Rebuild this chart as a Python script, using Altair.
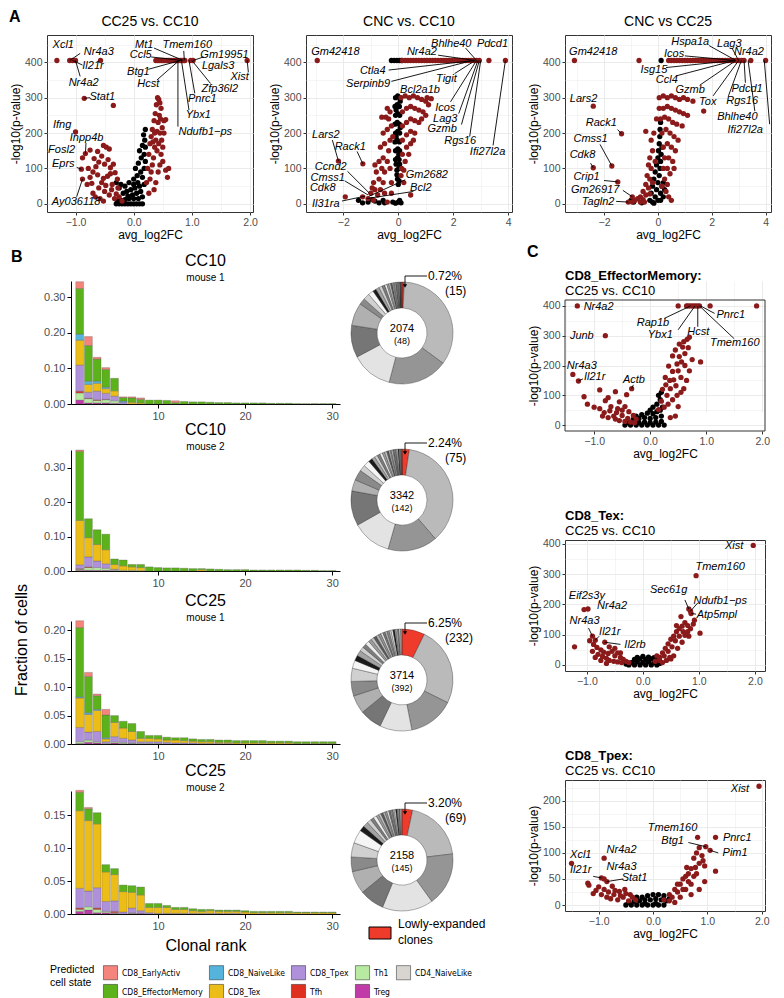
import altair as alt
import pandas as pd

FONT = "Liberation Sans"
NARROW = "Liberation Sans Narrow, DejaVu Sans Condensed, Liberation Sans"
DARKRED = "#8b1a1a"

# ---------------- Panel A1: CC25 vs. CC10 ----------------
a1_red = [(-1.32,405),(-1.1,405),(-1.05,405),(-1.0,405),(-0.57,405),
          (0.38,405),(0.41,405),(0.44,405),(0.47,405),(0.5,405),(0.53,405),(0.56,405),(0.59,405),(0.62,405),
          (0.65,405),(0.68,405),(0.71,405),(0.74,405),(0.77,405),(0.8,405),(0.83,405),(0.86,405),(0.88,405),
          (0.98,405),(1.02,405),(1.95,405),
          (-0.85,298),(-0.35,278),(-1.0,203),(-0.83,142),(-0.88,130),(-0.9,98),(-0.88,70),
          (-0.75,152),(-0.62,148),(-0.52,165),(-0.47,160),(-0.42,155),(-0.55,135),(-0.68,128),(-0.6,118),
          (-0.5,112),(-0.4,102),(-0.35,112),(-0.78,100),(-0.7,90),(-0.62,82),(-0.52,72),(-0.45,78),(-0.32,88),
          (-0.72,58),(-0.6,45),(-0.5,35),(-0.42,25),(-0.33,15),(-0.27,45),(-0.37,55),(-0.8,55),(-0.48,52),
          (-0.3,28),(-0.58,15),(-0.7,30),(-0.55,60),(-0.65,105),(-0.44,125),(-0.4,85),(-0.28,70),(-0.25,20),
          (-0.2,8),(-0.38,40),(-0.75,75),(-0.66,20),(-0.52,8),
          (0.22,60),(0.24,100),(0.26,140),(0.28,170),(0.3,190),(0.32,210),(0.35,235),(0.37,255),(0.39,280),
          (0.41,300),(0.43,295),(0.45,285),(0.47,270),(0.44,250),(0.42,230),(0.4,205),(0.38,180),(0.36,160),
          (0.34,130),(0.32,110),(0.3,90),(0.28,70),(0.45,200),(0.48,180),(0.5,160),(0.47,140),(0.52,235),
          (0.55,238),(0.5,120),(0.45,110),(0.42,90),(0.55,95),(0.6,100),(0.58,75),(0.38,60),(0.35,40),
          (0.26,30),(0.4,150),(0.43,170),(0.36,200),(0.33,175),(0.52,200),(0.49,215),(0.46,240)]
a1_blk = [(-0.3,0),(-0.25,0),(-0.2,0),(-0.15,0),(-0.1,0),(-0.05,0),(0,0),(0.05,0),(0.1,0),(0.15,0),
          (-0.28,8),(-0.22,10),(-0.15,12),(-0.08,15),(0,15),(0.08,15),(0.15,20),(-0.25,45),(-0.3,60),
          (-0.22,55),(-0.18,30),(-0.12,35),(-0.05,40),(0.02,45),(0.1,50),(0.18,55),(-0.08,60),(0,70),
          (0.06,80),(0.12,90),(0.18,100),(0.03,100),(0.08,115),(0.13,130),(0.18,140),(0.1,150),(0.15,165),
          (0.19,180),(0.17,195),(0.2,210),(-0.02,25),(0.05,30),(0.12,35),(-0.15,50),(0.15,75),(0.0,55),
          (0.2,160),(0.2,120),(0.07,60),(-0.1,22)]
a1_lab = [("Xcl1",-1.32,405,-1.21,449,None,None),("Nr4a3",-1.1,405,-0.6,429,-0.92,425),
          ("Il21r",-1.05,405,-0.7,390,-0.88,392),("Nr4a2",-1.0,405,-0.86,342,-0.92,360),
          ("Stat1",-0.85,298,-0.54,302,-0.75,300),("Mt1",0.85,405,0.18,449,0.35,440),
          ("Ccl5",0.83,405,0.12,420,0.3,415),("Btg1",0.8,405,0.08,373,0.25,380),
          ("Hcst",0.78,405,0.25,339,0.4,350),("Tmem160",0.87,405,0.92,449,0.86,432),
          ("Gm19951",1.02,405,1.56,420,1.2,415),("Lgals3",0.98,405,1.45,390,None,None),
          ("Xist",1.95,405,1.82,359,1.97,372),("Zfp36l2",1.0,405,1.48,325,1.32,340),
          ("Pnrc1",0.95,405,1.18,296,1.05,312),("Ybx1",0.82,405,1.11,251,0.95,265),
          ("Ndufb1\u2212ps",0.76,405,1.23,203,0.76,218),("Ifng",-1.0,203,-1.23,223,None,None),
          ("Inpp4b",-0.83,142,-0.81,186,-0.82,172),("Fosl2",-0.88,130,-1.24,153,None,None),
          ("Eprs",-0.9,98,-1.21,113,-0.98,103),("Ay036118",-0.88,70,-0.99,6,-0.98,20)]

# ---------------- Panel A2: CNC vs. CC10 ----------------
a2_red = [(-2.95,405),(0.15,405),(0.25,405),(0.35,405),(0.45,405),(0.55,405),(0.65,405),(0.75,405),(0.85,405),
          (0.95,405),(1.05,405),(1.15,405),(1.25,405),(1.35,405),(1.45,405),(1.55,405),(1.65,405),(1.75,405),
          (1.85,405),(1.95,405),(2.05,405),(2.15,405),(2.25,405),(2.35,405),(2.45,405),(2.55,405),(2.65,405),
          (2.75,405),(2.85,405),(2.95,405),(3.3,405),(3.9,405),
          (0.1,300),(0.25,305),(0.4,300),(0.55,305),(0.7,300),(0.85,295),(1.0,290),(1.1,280),(0.15,260),
          (0.3,270),(0.45,275),(0.6,270),(0.75,265),(0.9,260),(1.0,250),(0.15,220),(0.3,230),(0.45,240),
          (0.6,235),(0.75,230),(0.15,180),(0.3,195),(0.45,205),(0.6,200),(0.15,140),(0.3,160),(0.45,170),
          (0.12,100),(0.25,120),(0.38,140),(0.1,80),(0.2,95),(1.2,297),(0.85,240),(0.55,180),(0.2,60),
          (1.05,300),
          (-0.3,260),(-0.45,245),(-0.25,220),(-0.4,210),(-0.55,200),(-0.3,180),(-0.5,170),(-0.65,160),
          (-0.35,150),(-0.55,130),(-0.7,120),(-0.4,120),(-0.6,100),(-0.8,90),(-0.5,90),(-0.7,70),(-0.9,60),
          (-0.55,60),(-0.85,40),(-1.0,30),(-0.65,40),(-0.75,25),(-1.1,15),(-0.5,30),(-0.3,100),(-0.25,60),
          (-0.2,190),(-0.4,270),(-0.35,240),(-0.95,45),(-1.3,20),(-0.9,10),(-0.4,5),(-0.25,30),(0.45,25),
          (-1.93,20),(-2.18,121),(-1.29,113),(-0.85,110),(-0.6,245)]
a2_blk = [(-0.25,405),(-0.15,405),(-0.05,405),(0.05,405),(0.12,405),
          (-0.1,300),(-0.02,305),(0.05,300),(-0.12,275),(-0.04,280),(0.04,275),(-0.1,250),(-0.02,255),
          (0.05,250),(-0.12,225),(-0.04,230),(0.04,225),(-0.1,200),(-0.02,205),(0.05,200),(-0.12,175),
          (-0.04,180),(0.04,175),(-0.1,150),(-0.02,155),(0.05,150),(-0.1,125),(-0.03,130),(0.03,125),
          (-0.05,95),(0.02,100),(-0.03,70),(0.03,65),(0,55),(-0.05,82),(0.05,112),(-0.08,112),(0.02,140),
          (-0.08,190),(0.07,215),(-0.08,265),(0.07,290),
          (-1.45,10),(-1.1,5),(-0.85,8),(-0.7,3),(-0.55,10),(-0.5,3),(-0.2,5),(-0.1,2),(0,5),(0.05,10),
          (0.1,3),(-1.3,3),(-0.95,12)]
a2_lab = [("Gm42418",-2.95,405,-2.29,429,None,None),("Bhlhe40",2.85,405,1.93,452,2.45,440),
          ("Nr4a2",2.8,405,0.86,429,1.45,420),("Pdcd1",3.3,405,3.43,452,None,None),
          ("Ctla4",2.75,405,-0.93,375,-0.35,378),("Serpinb9",2.7,405,-1.1,338,-0.25,346),
          ("Tigit",2.8,405,1.75,354,2.05,368),("Bcl2a1b",2.65,405,0.79,322,None,None),
          ("Icos",2.85,405,1.71,271,1.9,288),("Lag3",2.9,405,1.71,240,2.2,255),
          ("Gzmb",2.95,405,1.6,212,2.3,224),("Rgs16",3.0,405,2.25,178,2.6,190),
          ("Ifi27l2a",3.9,405,3.25,147,3.45,165),("Lars2",-2.18,121,-2.64,195,-2.4,180),
          ("Rack1",-1.29,113,-1.75,161,-1.5,148),("Ccnd2",-1.05,30,-2.46,105,-1.85,92),
          ("Cmss1",-1.1,25,-2.57,74,-1.95,65),("Cdk8",-1.93,20,-2.75,45,None,None),
          ("Il31ra",-1.2,22,-2.64,0,-2.05,8),("Gm2682",-1.05,22,1.04,82,0.25,68),
          ("Bcl2",-1.15,15,0.82,45,0.55,35)]

# ---------------- Panel A3: CNC vs CC25 ----------------
a3_red = [(-3.1,405),(-0.7,405),(0.4,405),(0.5,405),(0.6,405),(0.7,405),(0.8,405),(0.9,405),(1.0,405),(1.1,405),
          (1.2,405),(1.3,405),(1.4,405),(1.5,405),(1.6,405),(1.7,405),(1.8,405),(1.9,405),(2.0,405),(2.1,405),
          (2.2,405),(2.3,405),(2.4,405),(2.5,405),(2.6,405),(2.7,405),(2.8,405),(2.9,405),(3.0,405),(3.1,405),
          (3.2,405),(3.45,405),(4.0,405),
          (0.05,300),(0.2,305),(0.35,300),(0.5,305),(0.65,300),(0.8,295),(0.95,300),(1.1,295),(1.3,290),
          (0.2,270),(0.35,275),(0.5,270),(0.65,265),(0.8,260),(0.95,255),(1.1,250),(0.1,240),(0.25,245),
          (0.4,240),(0.55,230),(0.7,225),(0.9,220),(0.15,200),(0.3,210),(0.45,200),(0.6,190),(0.75,180),
          (0.2,160),(0.35,170),(0.5,160),(0.65,150),(0.25,130),(0.4,130),(0.55,120),(0.2,100),(0.35,100),
          (0.45,85),(0.25,70),(0.35,55),(0.15,50),(0.3,35),(0.4,20),(0.5,10),(1.7,262),(0.6,100),(0.05,270),
          (-0.05,240),(-0.15,200),(-0.25,180),(-0.2,150),(-0.3,130),(-0.35,110),(-0.25,100),(-0.4,80),
          (-0.3,70),(-0.45,55),(-0.35,45),(-0.55,35),(-0.45,25),(-0.65,20),(-0.55,12),(-0.75,15),(-0.85,10),
          (-0.95,5),(-0.65,5),(-0.5,5),(-0.45,205),(-0.1,120),(-0.2,60),(-2.4,276),(-1.35,198),(-1.71,107),
          (-2.4,102),(-1.49,62),(-0.95,20),(-1.1,5),(-0.3,28)]
a3_blk = [(-0.3,10),(-0.25,30),(-0.2,50),(-0.15,70),(-0.1,90),(-0.05,110),(0,130),(0.02,150),(0.05,170),
          (0.07,190),(0.08,210),(0.1,230),(-0.1,20),(-0.05,40),(0,60),(0.05,80),(0.08,100),(0.1,120),
          (0.12,140),(0.15,160),(-0.2,5),(0,10),(0.1,30),(0.15,50),(0.2,20),(0.2,60),(-0.9,5),(-1.0,10),
          (-0.6,3),(-0.15,2),(0.25,40),(0.1,10),(0.12,405)]
a3_lab = [("Gm42418",-3.1,405,-2.4,429,None,None),("Hspa1a",2.9,405,1.2,457,1.9,447),
          ("Lag3",3.0,405,2.65,452,2.75,440),("Icos",2.85,405,0.6,422,1.0,418),
          ("Nr4a2",3.2,405,3.38,429,None,None),("Isg15",2.8,405,-0.15,378,0.3,385),
          ("Ccl4",2.85,405,0.33,350,0.7,362),("Gzmb",2.9,405,1.2,322,1.55,335),
          ("Tox",3.0,405,1.85,288,2.05,305),("Pdcd1",3.2,405,3.31,325,3.25,342),
          ("Rgs16",3.1,405,3.13,291,2.62,305),("Bhlhe40",3.35,405,2.95,246,3.6,262),
          ("Ifi27l2a",3.95,405,3.24,209,4.15,225),("Lars2",-2.4,276,-2.76,297,None,None),
          ("Rack1",-1.35,198,-2.1,229,-1.5,210),("Cmss1",-1.71,107,-2.5,184,-2.15,168),
          ("Cdk8",-2.4,102,-2.8,139,-2.5,115),("Crip1",-1.49,62,-2.65,76,-2.0,66),
          ("Gm26917",-0.95,20,-2.33,40,-1.3,38),("Tagln2",-1.1,5,-2.22,6,-1.55,7)]

# ---------------- Panel C1: CD8_EffectorMemory ----------------
c1_red = [(-1.3,400),(0.5,400),(0.65,400),(0.68,400),(0.72,400),(0.76,400),(0.8,400),(0.84,400),(0.88,400),
          (1.07,400),(1.9,400),(-0.8,300),(-1.38,170),(-1.28,148),(-0.33,122),
          (-0.9,118),(-1.18,95),(-1.12,70),(-1.0,60),(-0.8,82),(-0.75,92),(-0.62,112),(-0.42,102),(-0.55,78),
          (-0.7,62),(-0.82,42),(-0.6,42),(-0.5,32),(-0.4,22),(-0.3,32),(-0.25,20),(-0.45,62),(-0.65,30),
          (-0.72,48),(-0.85,30),(-0.55,15),(-0.35,10),(-0.5,50),(-0.38,45),(-0.58,55),(-0.9,55),(-0.75,25),
          (-0.45,12),(-0.28,8),(-0.62,20),
          (0.15,52),(0.2,80),(0.22,120),(0.27,160),(0.33,198),(0.4,232),(0.45,252),(0.52,272),(0.6,280),
          (0.66,288),(0.7,295),(0.62,240),(0.56,212),(0.5,182),(0.42,152),(0.36,122),(0.3,100),(0.46,132),
          (0.55,160),(0.75,220),(0.9,212),(0.7,182),(0.36,25),(0.45,30),(0.5,62),(0.6,122),(0.25,60),
          (0.32,70),(0.4,85),(0.48,100),(0.55,110),(0.65,150),(0.52,230),(0.58,262),(0.48,205),(0.4,180),
          (0.35,150),(0.28,135),(0.68,260),(0.62,200)]
c1_blk = [(-0.45,0),(-0.35,0),(-0.25,0),(-0.15,0),(-0.05,0),(0.05,0),(0.15,0),(0.25,0),(-0.4,8),(-0.3,10),
          (-0.2,8),(-0.1,10),(0,8),(0.1,10),(0.2,12),(-0.3,20),(-0.2,22),(-0.1,25),(0,22),(0.1,25),(0.2,30),
          (-0.15,35),(-0.05,40),(0.05,38),(0.12,45),(0.18,50),(0.05,60),(0.12,70),(0.18,85),(0.15,100),
          (0.2,110),(-0.25,30),(0.0,50),(0.22,60)]
c1_lab = [("Nr4a2",-1.3,400,-0.92,397,None,None),("Junb",-0.8,300,-1.22,300,None,None),
          ("Nr4a3",-1.38,170,-1.22,198,None,None),("Il21r",-1.28,148,-0.99,161,-1.2,155),
          ("Actb",-0.33,122,-0.29,151,-0.3,135),("Rap1b",0.72,400,0.05,343,0.25,358),
          ("Ybx1",0.8,400,0.18,303,0.5,320),("Hcst",0.85,400,0.86,312,0.85,330),
          ("Pnrc1",0.9,400,1.44,370,1.15,375),("Tmem160",0.88,400,1.51,276,1.5,290)]

# ---------------- Panel C2: CD8_Tex ----------------
c2_red = [(1.97,395),(0.95,295),(0.82,185),(0.85,178),(0.86,170),(0.92,148),(1.02,105),(-1.05,183),
          (-0.98,185),(-0.9,95),(-0.85,82),(-0.68,75),(-1.22,60),
          (-0.95,80),(-0.88,68),(-0.82,58),(-0.75,50),(-0.7,42),(-0.62,38),(-0.55,45),(-0.5,30),(-0.45,40),
          (-0.4,25),(-0.35,18),(-0.3,12),(-0.25,8),(-0.8,35),(-0.72,28),(-0.65,22),(-0.6,15),(-0.52,12),
          (-0.45,10),(-0.38,8),(-0.9,45),(-0.85,25),(-0.6,60),(-0.5,55),(-0.75,15),(-0.65,5),(-0.4,40),
          (0.22,12),(0.3,25),(0.35,40),(0.4,55),(0.45,70),(0.5,85),(0.55,95),(0.6,110),(0.65,120),(0.7,128),
          (0.75,140),(0.8,130),(0.72,110),(0.65,95),(0.58,80),(0.52,60),(0.45,45),(0.38,30),(0.3,15),
          (0.68,160),(0.6,130),(0.85,120),(0.82,95),(0.55,30),(0.48,25),(0.42,15),(0.62,55),(0.7,75),
          (0.75,98),(0.8,110),(0.9,135),(0.5,20),(0.35,8),(0.25,30)]
c2_blk = [(-0.25,0),(-0.15,0),(-0.05,0),(0.05,0),(0.15,0),(0.25,0),(-0.2,8),(-0.1,10),(0,8),(0.1,10),
          (0.2,8),(0.3,5),(-0.15,18),(-0.05,20),(0.05,18),(0.15,20),(0.25,15),(-0.3,3),(0.0,28),(0.1,26),
          (0.2,24),(-0.1,25)]
c2_lab = [("Xist",1.97,395,1.63,393,None,None),("Tmem160",0.95,295,1.38,324,None,None),
          ("Sec61g",0.82,185,0.46,248,0.75,215),("Ndufb1\u2212ps",0.85,178,1.38,212,0.98,205),
          ("Atp5mpl",0.86,170,1.32,165,0.95,168),("Eif2s3y",-1.05,183,-1.0,228,None,None),
          ("Nr4a2",-0.98,185,-0.55,195,None,None),("Nr4a3",-0.9,95,-1.04,145,-0.97,122),
          ("Il21r",-0.85,82,-0.59,109,-0.78,95),("Il2rb",-0.68,75,-0.14,66,-0.4,68)]

# ---------------- Panel C3: CD8_Tpex ----------------
c3_red = [(1.95,228),(1.15,130),(0.82,130),(0.97,112),(1.05,105),(1.15,65),(0.95,75),(0.85,30),(-1.5,80),
          (-0.9,90),(-0.95,52),(-0.9,50),(-0.85,45),
          (-1.2,42),(-1.18,38),(-1.1,22),(-1.0,35),(-0.9,30),(-0.82,25),(-0.72,20),(-0.62,26),(-0.52,30),
          (-0.42,20),(-0.32,10),(-0.55,15),(-0.75,36),(-0.85,15),(-1.05,28),(-0.65,10),(-0.45,8),(-0.95,20),
          (-0.78,12),(-0.6,18),(-0.5,22),(-0.38,15),(-0.7,28),
          (0.2,10),(0.3,20),(0.4,30),(0.5,40),(0.6,55),(0.65,60),(0.7,70),(0.55,50),(0.45,25),(0.35,15),
          (0.8,100),(0.85,110),(0.75,90),(0.9,95),(0.7,40),(0.6,30),(0.5,15),(0.4,5),(0.95,45),(0.8,60),
          (0.65,45),(0.75,55),(0.85,80),(0.92,85),(0.55,30),(0.45,40),(0.3,8),(0.7,20),(0.62,72),(0.78,72)]
c3_blk = [(-0.5,0),(-0.4,0),(-0.3,0),(-0.2,0),(-0.1,0),(0,0),(0.1,0),(0.2,0),(-0.45,5),(-0.35,7),(-0.25,8),
          (-0.15,10),(-0.05,10),(0.05,12),(0.15,10),(0.25,8),(-0.3,15),(-0.2,15),(-0.1,18),(0,20),(0.1,20),
          (0.2,18),(0.3,12),(-0.15,3),(0.05,3)]
c3_lab = [("Xist",1.95,228,1.6,222,None,None),("Pnrc1",1.15,130,1.55,128,None,None),
          ("Tmem160",0.82,130,0.36,148,None,None),("Btg1",0.97,112,0.36,123,0.65,120),
          ("Pim1",1.05,105,1.51,100,1.2,100),("Xcl1",-1.5,80,-1.33,96,None,None),
          ("Nr4a2",-0.9,90,-0.58,106,None,None),("Il21r",-0.95,52,-1.33,67,-1.1,55),
          ("Nr4a3",-0.9,50,-0.58,73,None,None),("Stat1",-0.85,45,-0.34,52,-0.55,50)]

# ---------------- Panel B: clonal rank bars (fraction of cells) ----------------
CATS_STACK = ["CD4_NaiveLike","Treg","Th1","Tfh","CD8_Tpex","CD8_Tex","CD8_NaiveLike",
              "CD8_EffectorMemory","CD8_EarlyActiv"]
LEG_ORDER = ["CD8_EarlyActiv","CD8_NaiveLike","CD8_Tpex","Th1","CD4_NaiveLike",
             "CD8_EffectorMemory","CD8_Tex","Tfh","Treg"]
LEG_COLORS = ["#f5847c","#55b3dc","#ae90db","#b9eaa2","#d8d5d1",
              "#5cb21a","#ecbd16","#df2f1f","#c03ba8"]

c10m1 = {
    "CD8_EarlyActiv":     [.019,.025,.005,.005,0,.002,.003,.004,0,0,0,.005],
    "CD8_EffectorMemory": [.128,.100,.062,.050,.035,.010,.012,.010,.011,.011,.010,.004,.007,.006,.006,.005,
                           .004,.004,.003,.003,.003,.003,.002,.002,.002,.001,.001,.001,.001,.001],
    "CD8_NaiveLike":      [.017,.009,.006,.004,0,.003],
    "CD8_Tex":            [.070,.022,.022,.013,.015,0,.005,.003],
    "CD8_Tpex":           [.073,.017,.024,.017,.013,.005],
    "Tfh":                [.005,.001,.002,.001],
    "Th1":                [.020,.012,.007,.009,.007],
    "Treg":               [.011,.003,.003,.003,.002],
}
c10m2 = {
    "CD8_EarlyActiv":     [.004],
    "CD8_EffectorMemory": [.201,.055,.043,.045,.016,.017,.007,.009,.012,.010,.009,.009,.008,.007,.003,.006,
                           .005,.004,.004,.004,.003,.003,.003,.003,.003,.003,.002,.002,.001,.001],
    "CD8_Tex":            [.129,.056,.048,.041,.014,.013,.010,.009,0,0,0,0,0,0,.004],
    "CD8_Tpex":           [.011,.029,.019,.013,.003],
    "Tfh":                [.002,.002],
    "Th1":                [.003,.008,.008,.006,.002,.002,.002,.001],
    "Treg":               [.002,.002,.002,.002],
}
c25m1 = {
    "CD8_EarlyActiv":     [.012,.007,.003,.010],
    "CD8_EffectorMemory": [.122,.064,.024,.040,.012,.012,.014,.012,.005,.006,.005,.004,.005,.004,.004,.004,
                           .004,.004,.004,.004,.004,.004,.003,.003,.003,.003,.003,.003,.003,.003],
    "CD8_NaiveLike":      [.002,.003,.002,.002],
    "CD8_Tex":            [.052,.031,.037,.005,.025,.018,.015,.006,.006,.005,.004,.005,.004,.003,.003,.003,
                           .002,.002,.002,.002,.002,.002,.002,.002,.002,.001,.001,.001,.001,.001],
    "CD8_Tpex":           [.025,.014,.018,.003,.009,.007,.005,.003,.003,.003,.003,.002,.002,.002,.001,.001,
                           .001,.001],
    "Th1":                [.003,.004,.002,.001,.002,.002,.001,.001,.001,.001],
    "Treg":               [.001,.003,.002,0,.002,.001,.001],
}
c25m2 = {
    "CD8_EarlyActiv":     [.003,.002],
    "CD8_EffectorMemory": [.028,.018,.017,.011,.009,.010,.010,.012,.006,.006,.003,.003,.003,.003,.003,.002,
                           .002,.002,.002,.002,.002,.002,.002,.002,.002,.001,.001,.001,.001,.001],
    "CD8_Tex":            [.118,.107,.097,.045,.040,.031,.024,.024,.008,.009,.009,.006,.006,.004,.003,.004,
                           .003,.003,.003,.003,.002,.002,.002,.002,.002,.002,.002,.002,.002,.002],
    "CD8_Tpex":           [.030,.024,.031,.015,.016,.003,.007,.004,.002,.001,.001,.001,.001,.001,.001,.001,
                           .001,.001,.001],
    "Tfh":                [.002,0,.002,0,.002],
    "Th1":                [.003,.005,.005,.002,.001,0,.001],
    "Treg":               [.004,.006,.002,.002,.001,0,.001,.001],
}

# donut annotations: (cells, clones, lowly-expanded %, lowly-expanded cells, percent value)
donut_info = [("2074","(48)","0.72%","(15)",0.72),
              ("3342","(142)","2.24%","(75)",2.24),
              ("3714","(392)","6.25%","(232)",6.25),
              ("2158","(145)","3.20%","(69)",3.20)]
bar_titles = [("CC10","mouse 1"),("CC10","mouse 2"),("CC25","mouse 1"),("CC25","mouse 2")]
bar_yticks = [[0,0.1,0.2,0.3],[0,0.1,0.2,0.3],[0,0.05,0.1,0.15,0.2],[0,0.05,0.1,0.15]]
bar_ymax = [0.345,0.352,0.2165,0.187]
bar_heights = [123,121,123,123]
row_heights = [123,125,124,123]
donut_cy = [52,50,59,69]
GREYS = ["#bababa","#959595","#e3e3e3","#767676","#b0b0b0","#8a8a8a","#d0d0d0","#f5f5f5",
         "#1a1a1a","#a3a3a3","#cfcfcf","#7d7d7d","#ededed","#9e9e9e","#c4c4c4","#5a5a5a"]

AX = dict(labelFont=FONT, titleFont=FONT, labelColor="#4d4d4d", titleColor="black",
          labelFontSize=10.5, titleFontSize=12, titleFontWeight="normal", tickColor="#333333",
          titlePadding=2)
ONE = pd.DataFrame({"t": [0]})
BAR_X0 = 24   # left inset of the bar plot inside its cell
C_DY = 19     # top inset of the first C plot inside its cell


def txt(s, x, y, size, align="center", weight="normal", angle=0):
    return alt.Chart(pd.DataFrame({"t": [s]})).mark_text(
        font=FONT, fontSize=size, align=align, fontWeight=weight, angle=angle, color="black").encode(
        x=alt.value(x), y=alt.value(y), text="t:N")


def vaxis(values, step, title):
    minor = f"datum.value % {step} !== 0"
    return alt.Axis(values=values, title=title, grid=True, domain=False, tickSize=3, labelFlush=False,
                    labelExpr=f"({minor}) ? '' : datum.label",
                    gridColor="#ebebeb",
                    gridWidth={"condition": {"test": minor, "value": 0.5}, "value": 1},
                    tickOpacity={"condition": {"test": minor, "value": 0}, "value": 1},
                    **AX)


def volcano(red, blk, lab, xdom, ydom, xvals, xstep, yvals, ystep, w, h, extra, dy=0):
    rdf = pd.DataFrame(red, columns=["x", "y"])
    bdf = pd.DataFrame(blk, columns=["x", "y"])
    ldf = pd.DataFrame(lab, columns=["gene", "px", "py", "tx", "ty", "sx", "sy"])
    sdf = ldf.dropna()
    xs = alt.Scale(domain=xdom, nice=False, zero=False)
    if dy:
        ys = alt.Scale(domain=ydom, nice=False, zero=False, range=[h + dy, dy])
    else:
        ys = alt.Scale(domain=ydom, nice=False, zero=False)
    xax = vaxis(xvals, xstep, "avg_log2FC")
    yax = vaxis(yvals, ystep, "-log10(p-value)")
    b = alt.Chart(bdf).mark_circle(size=28, color="black", opacity=1).encode(
        x=alt.X("x:Q", scale=xs, axis=xax), y=alt.Y("y:Q", scale=ys, axis=yax))
    r = alt.Chart(rdf).mark_circle(size=28, color=DARKRED, opacity=1).encode(
        x=alt.X("x:Q", scale=xs, axis=xax), y=alt.Y("y:Q", scale=ys, axis=yax))
    s = alt.Chart(sdf).mark_rule(color="black", strokeWidth=0.9).encode(
        x=alt.X("px:Q", scale=xs, axis=xax), y=alt.Y("py:Q", scale=ys, axis=yax),
        x2="sx:Q", y2="sy:Q")
    t = alt.Chart(ldf).mark_text(font=FONT, fontStyle="italic", fontSize=11, color="black").encode(
        x=alt.X("tx:Q", scale=xs, axis=xax), y=alt.Y("ty:Q", scale=ys, axis=yax), text="gene:N")
    layers = [b, r, s, t]
    if dy:
        frame = alt.Chart(ONE).mark_rect(fill="transparent", stroke="#333333", strokeWidth=1).encode(
            x=alt.value(0), x2=alt.value(w), y=alt.value(dy), y2=alt.value(dy + h))
        layers.append(frame)
        return alt.layer(*layers, *extra).properties(
            width=w, height=h + dy, view=alt.ViewBackground(stroke=None))
    return alt.layer(*layers, *extra).properties(
        width=w, height=h, view=alt.ViewBackground(stroke="#333333", strokeWidth=1))


def bars(d, i):
    rows = []
    for cat in CATS_STACK:
        for k, v in enumerate(d.get(cat, [])):
            if v > 0:
                rows.append({"rank": k + 1, "cat": cat, "v": v, "ord": CATS_STACK.index(cat)})
    df = pd.DataFrame(rows)
    last = i == 3
    W = 269
    xs = alt.Scale(domain=[0, 30.9], nice=False, zero=False, range=[BAR_X0, BAR_X0 + W])
    ys = alt.Scale(domain=[0, bar_ymax[i]], nice=False)
    xax = alt.Axis(values=[10, 20, 30], grid=False, domainColor="black", tickColor="black",
                   title="Clonal rank" if last else None, labelFontSize=11, titleFontSize=16,
                   labelFont=FONT, titleFont=FONT, labelColor="#4d4d4d", titleFontWeight="normal",
                   titleColor="black", tickSize=4, titlePadding=6)
    yax = alt.Axis(values=bar_yticks[i], format=".2f", grid=False, domainColor="black",
                   tickColor="black", title=None, labelFontSize=11, labelFont=FONT,
                   labelColor="#4d4d4d", tickSize=4, offset=-BAR_X0)
    leg = alt.Legend(orient="none", legendX=3, legendY=930, direction="horizontal", columns=5,
                     title=["Predicted", "cell state"], titleOrient="left", titleFont=FONT,
                     titleFontSize=10.5, titleFontWeight="normal", titleColor="black", titlePadding=8,
                     titleAnchor="start",
                     labelFont=NARROW, labelFontSize=8.5, labelColor="black", symbolType="square",
                     symbolSize=200, symbolStrokeColor="#bbbbbb", symbolStrokeWidth=0.5,
                     symbolOpacity=1, rowPadding=2, columnPadding=5, labelLimit=200)
    bar = alt.Chart(df).transform_stack(
        stack="v", groupby=["rank"], as_=["v0", "v1"], sort=[alt.SortField("ord", order="ascending")]
    ).transform_calculate(x0="datum.rank - 0.45", x1="datum.rank + 0.45").mark_bar(
        stroke="#555555", strokeWidth=0.3).encode(
        x=alt.X("x0:Q", scale=xs, axis=xax), x2="x1:Q",
        y=alt.Y("v0:Q", scale=ys, axis=yax), y2="v1:Q",
        color=alt.Color("cat:N", scale=alt.Scale(domain=LEG_ORDER, range=LEG_COLORS), legend=leg))
    t = bar_titles[i]
    cxm = BAR_X0 + W / 2
    layers = [bar, txt(t[0], cxm, -20, 16), txt(t[1], cxm, -3, 10)]
    if i == 0:
        layers.append(txt("B", -36, -24, 16, "left", "bold"))
    if i == 2:
        layers.append(txt("Fraction of cells", -25, 19, 16, angle=270))
    return alt.layer(*layers).properties(width=BAR_X0 + W, height=bar_heights[i])


def totals(d):
    out = [0.0] * 30
    for vals in d.values():
        for k, v in enumerate(vals):
            out[k] += v
    return out


def donut(d, i):
    info = donut_info[i]
    vals = [info[4] / 100.0] + [v for v in totals(d) if v > 0]
    shades = ["#ef3b2c"] + [GREYS[k % len(GREYS)] for k in range(len(vals) - 1)]
    df = pd.DataFrame({"i": list(range(len(vals))), "v": vals, "c": shades})
    cx, cy = 52, donut_cy[i]
    arc = alt.Chart(df).mark_arc(outerRadius=51, innerRadius=25, stroke="#222222", strokeWidth=0.35).encode(
        theta=alt.Theta("v:Q", stack=True), order=alt.Order("i:Q"),
        color=alt.Color("c:N", scale=None), x=alt.value(cx), y=alt.value(cy))
    hline = alt.Chart(ONE).mark_rule(color="black", strokeWidth=0.9).encode(
        x=alt.value(cx + 3), x2=alt.value(cx + 25), y=alt.value(cy - 57))
    vline = alt.Chart(ONE).mark_rule(color="black", strokeWidth=0.9).encode(
        x=alt.value(cx + 3), y=alt.value(cy - 57), y2=alt.value(cy - 48))
    head = alt.Chart(ONE).mark_point(shape="triangle-down", filled=True, color="black", size=18,
                                     opacity=1).encode(x=alt.value(cx + 3), y=alt.value(cy - 47))
    layers = [arc, hline, vline, head,
              txt(info[0], cx, cy - 4, 11), txt(info[1], cx, cy + 8, 9),
              txt(info[2], cx + 26, cy - 57, 12, "left"), txt(info[3], cx + 43, cy - 42, 12, "left")]
    if i == 3:
        box = alt.Chart(ONE).mark_rect(fill="#ef3b2c", stroke="black", strokeWidth=1).encode(
            x=alt.value(cx - 33), x2=alt.value(cx - 11), y=alt.value(cy + 67), y2=alt.value(cy + 79))
        layers += [box, txt("Lowly-expanded", cx - 4, cy + 64, 12, "left"),
                   txt("clones", cx - 4, cy + 80, 12, "left")]
    return alt.layer(*layers).properties(width=140, height=row_heights[i])


WA, HA = 206, 177
Y4 = [0, 50, 100, 150, 200, 250, 300, 350, 400, 450]
XA = [-3, -2, -1, 0, 1, 2, 3, 4]
a1 = volcano(a1_red, a1_blk, a1_lab, [-1.49, 2.05], [-23, 477], [-1.5, -1, -0.5, 0, 0.5, 1, 1.5, 2], 1,
             Y4, 100, WA, HA, [txt("CC25 vs. CC10", WA / 2, -13, 14), txt("A", -38, -18, 16, "left", "bold")])
a2 = volcano(a2_red, a2_blk, a2_lab, [-3.36, 4.14], [-23, 477], XA, 2,
             Y4, 100, WA, HA, [txt("CNC vs. CC10", WA / 2, -13, 14)])
a3 = volcano(a3_red, a3_blk, a3_lab, [-3.45, 4.2], [-23, 477], XA, 2,
             Y4, 100, WA, HA, [txt("CNC vs CC25", WA / 2, -13, 14)])

XC = [-1.5, -1, -0.5, 0, 0.5, 1, 1.5, 2]


def ctitle(a, b, dy=0):
    return [txt(a, 0, dy - 24, 13, "left", "bold"), txt(b, 0, dy - 9, 13, "left")]


c1 = volcano(c1_red, c1_blk, c1_lab, [-1.52, 2.05], [-20, 420], XC, 1, Y4[:9], 100, 200, 131,
             ctitle("CD8_EffectorMemory:", "CC25 vs. CC10", C_DY) +
             [txt("C", -38, C_DY - 48, 16, "left", "bold")], dy=C_DY)
c2 = volcano(c2_red, c2_blk, c2_lab, [-1.39, 2.18], [-20, 413], XC, 1, Y4[:9], 100, 200, 131,
             ctitle("CD8_Tex:", "CC25 vs. CC10"))
c3 = volcano(c3_red, c3_blk, c3_lab, [-1.62, 2.06], [-11.5, 240], XC, 1,
             [0, 25, 50, 75, 100, 125, 150, 175, 200, 225], 50, 200, 131,
             ctitle("CD8_Tpex:", "CC25 vs. CC10"))

FL = dict(bounds="flush")
top = alt.hconcat(a1, a2, a3, spacing=53, **FL)

mice = [c10m1, c10m2, c25m1, c25m2]
cells = []
for k, m in enumerate(mice):
    cells += [bars(m, k), donut(m, k)]
left = alt.concat(*cells, columns=2, spacing=alt.RowColnumber(row=46, column=10), **FL)
ccol = alt.vconcat(c1, c2, c3, spacing=109, **FL)

bottom = alt.hconcat(left, ccol, spacing=36)

chart = alt.vconcat(top, bottom, spacing=3).properties(padding=0).configure(
    background="white", font=FONT).configure_view(stroke=None)

chart.save("out.html", embed_options={"renderer": "svg", "actions": False})
